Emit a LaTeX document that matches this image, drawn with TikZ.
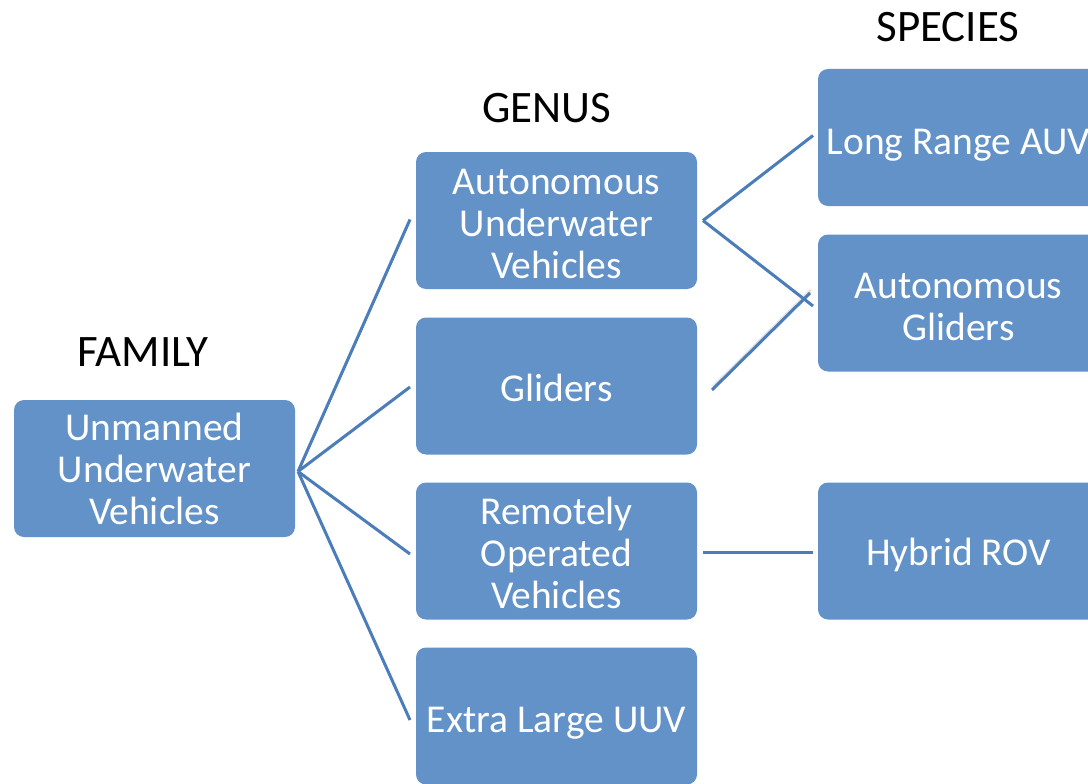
\documentclass[tikz,border=0pt]{standalone}
\usepackage{fontspec}
\setmainfont{Carlito}
% lower the text inside a box without changing the box's own size
\newcommand{\boxlines}[2][7pt]{\raisebox{-#1}[\height][\depth]{\begin{tabular}{@{}c@{}}#2\end{tabular}}}
\begin{document}
\begin{tikzpicture}[x=1pt,y=-1pt,
  every node/.style={inner sep=0pt, outer sep=0pt},
  catbox/.style={rectangle, rounded corners=10pt, fill=boxblue,
    minimum width=281pt, minimum height=137pt, text=white, align=center,
    font=\fontsize{39.5}{42}\selectfont},
  level/.style={text=black, font=\fontsize{45}{50}\selectfont},
  link/.style={draw=lineblue, line width=3pt}
]
\definecolor{boxblue}{RGB}{98,146,200}
\definecolor{lineblue}{RGB}{74,125,185}
\useasboundingbox (0,0) rectangle (1088,784);
\fill[white] (0,0) rectangle (1088,784);

% level headings
\node[level] (hfam) at (143,352) {FAMILY};
\node[level] (hgen) at (547,108) {GENUS};
\node[level] (hspe) at (948,27) {SPECIES};

% family
\node[catbox] (fam) at (154.5,468.5) {\boxlines[6pt]{Unmanned\\Underwater\\Vehicles}};

% genus
\node[catbox] (auv) at (556.5,220.5) {\boxlines[8pt]{Autonomous\\Underwater\\Vehicles}};
\node[catbox] (gli) at (556.5,386) {\boxlines[7pt]{Gliders}};
\node[catbox] (rov) at (556.5,551) {\boxlines[7pt]{Remotely\\Operated\\Vehicles}};
\node[catbox] (xl)  at (556.5,716) {\boxlines[8pt]{Extra Large UUV}};

% species
\node[catbox] (lr)  at (958.5,137.5) {\boxlines[9pt]{Long Range AUV}};
\node[catbox] (ag)  at (958.5,303) {\boxlines[8pt]{Autonomous\\Gliders}};
\node[catbox] (hyb) at (958.5,551) {\boxlines[6pt]{Hybrid ROV}};

% connector end points
\coordinate (f0) at ([xshift=3pt,yshift=-3pt]fam.east);
\coordinate (a0) at ([xshift=6pt]auv.east);
\coordinate (g0) at ([xshift=15pt,yshift=-4pt]gli.east);
\coordinate (r0) at ([xshift=6pt,yshift=-1pt]rov.east);

% family -> genus
\draw[link] (f0) -- ([xshift=-6pt,yshift=1pt]auv.west);
\draw[link] (f0) -- ([xshift=-6pt,yshift=-1pt]gli.west);
\draw[link] (f0) -- ([xshift=-6pt,yshift=-3pt]rov.west);
\draw[link] (f0) -- ([xshift=-6pt,yshift=-4pt]xl.west);

% genus -> species
\draw[link] (a0) -- ([xshift=-5pt,yshift=2pt]lr.west);
\draw[link] (a0) -- ([xshift=-5pt,yshift=-3pt]ag.west);
\draw[black!40, line width=3pt, opacity=0.25] ([xshift=1pt,yshift=3pt]g0) -- ([xshift=-7pt,yshift=13pt]ag.west);
\draw[link] (g0) -- ([xshift=-8pt,yshift=10pt]ag.west);
\draw[link] (r0) -- ([xshift=-5pt,yshift=-1pt]hyb.west);
\end{tikzpicture}
\end{document}
